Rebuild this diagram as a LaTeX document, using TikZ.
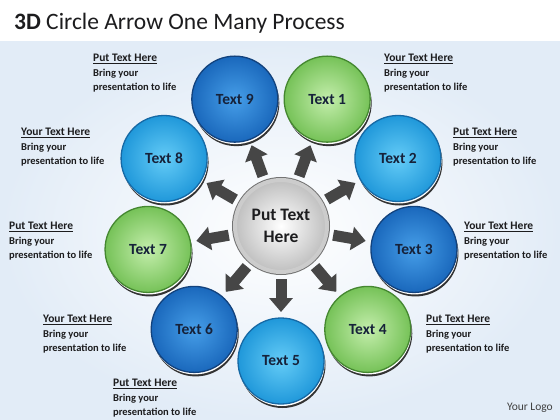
\documentclass[tikz,border=0pt]{standalone}
\usepackage{fontspec}
\setmainfont{Carlito}
\usepackage{tikz}
\usetikzlibrary{arrows.meta,shadows,calc}

\definecolor{inktext}{RGB}{28,28,30}
\definecolor{navytext}{RGB}{22,34,58}
\definecolor{bluein}{RGB}{70,158,232}
\definecolor{blueout}{RGB}{26,104,188}
\definecolor{blueedge}{RGB}{18,66,125}
\definecolor{cyanin}{RGB}{100,204,247}
\definecolor{cyanout}{RGB}{32,152,218}
\definecolor{cyanedge}{RGB}{22,105,165}
\definecolor{greenin}{RGB}{196,238,172}
\definecolor{greenout}{RGB}{118,194,88}
\definecolor{greenedge}{RGB}{68,135,48}
\definecolor{spokegray}{RGB}{70,70,70}
\definecolor{bgblue}{RGB}{226,236,247}

\newcommand{\notehead}[1]{{\fontsize{11.5}{13.5}\selectfont\underline{#1}}}

\tikzset{
  bubble/.style={circle, minimum size=86pt, inner sep=0pt, outer sep=0pt,
    line width=1.3pt, text=navytext, font=\bfseries\fontsize{15.5}{18}\selectfont,
    general shadow={fill=black!80, shadow xshift=1.5pt, shadow yshift=-4pt},
    general shadow={fill=white, shadow xshift=0.7pt, shadow yshift=-2pt}},
  bluebub/.style={bubble, inner color=bluein, outer color=blueout, draw=blueedge},
  cyanbub/.style={bubble, inner color=cyanin, outer color=cyanout, draw=cyanedge},
  greenbub/.style={bubble, inner color=greenin, outer color=greenout, draw=greenedge},
  hub/.style={circle, minimum size=92pt, inner sep=0pt, outer sep=0pt,
    inner color=white, outer color=gray!50, draw=gray!40, line width=4pt,
    preaction={draw=black!55, line width=6pt},
    align=center, text=inktext, font=\bfseries\fontsize{17.5}{22}\selectfont},
  spoke/.style={spokegray, line width=11pt, -{Triangle[width=23pt,length=14pt]},
    shorten <=7pt, shorten >=6pt},
  note/.style={anchor=north west, align=left, inner sep=0pt, text=inktext,
    font=\bfseries\fontsize{10.5}{13.5}\selectfont}
}

\begin{document}
\begin{tikzpicture}[x=1pt,y=1pt]
  \useasboundingbox (0,0) rectangle (560,-420);

  % Background
  \fill [white] (0,0) rectangle (560,-42);
  \shade [inner color=white, outer color=bgblue] (0,-42) rectangle (560,-420);

  % Title
  \node [anchor=base west, inner sep=0pt, text=inktext, font=\fontsize{23.5}{28}\selectfont]
    (title) at (14,-30) {{\bfseries 3D} Circle Arrow One Many Process};

  % Hub
  \node [hub] (ctr) at (281,-226) {Put Text\\Here};

  % Outer circles
  \foreach \i/\ang/\kind in {1/70/greenbub, 2/30/cyanbub, 3/-10/bluebub,
      4/-50/greenbub, 5/-90/cyanbub, 6/-130/bluebub, 7/-170/greenbub,
      8/150/cyanbub, 9/110/bluebub}
    \node [\kind] (t\i) at ($(ctr)+(\ang:135)$) {Text \i};

  % Arrows out of the hub
  \foreach \i in {1,...,9}
    \draw [spoke] (ctr) -- (t\i);

  % Notes
  \node [note] (l9) at (93,-54) {\notehead{Put Text Here}\\[1.5pt]Bring your\\presentation to life};
  \node [note] (l1) at (384,-54) {\notehead{Your Text Here}\\[1.5pt]Bring your\\presentation to life};
  \node [note] (l2) at (453,-128) {\notehead{Put Text Here}\\[1.5pt]Bring your\\presentation to life};
  \node [note] (l3) at (464,-222) {\notehead{Your Text Here}\\[1.5pt]Bring your\\presentation to life};
  \node [note] (l4) at (426,-315) {\notehead{Put Text Here}\\[1.5pt]Bring your\\presentation to life};
  \node [note] (l5) at (113,-379) {\notehead{Put Text Here}\\[1.5pt]Bring your\\presentation to life};
  \node [note] (l6) at (43,-315) {\notehead{Your Text Here}\\[1.5pt]Bring your\\presentation to life};
  \node [note] (l7) at (9,-222) {\notehead{Put Text Here}\\[1.5pt]Bring your\\presentation to life};
  \node [note] (l8) at (21,-128) {\notehead{Your Text Here}\\[1.5pt]Bring your\\presentation to life};

  % Logo
  \node [anchor=east, inner sep=0pt, text=black!75, font=\fontsize{11.5}{14}\selectfont]
    (logo) at (553,-408) {Your Logo};
\end{tikzpicture}
\end{document}
